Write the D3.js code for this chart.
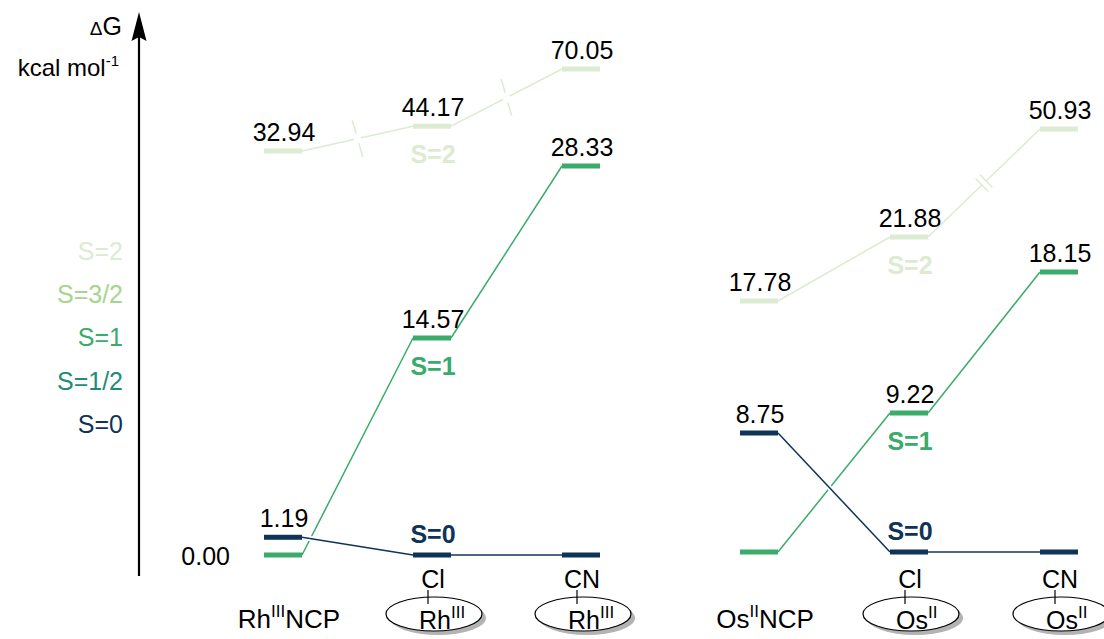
<!DOCTYPE html>
<html>
<head>
<meta charset="utf-8">
<script src="https://cdn.jsdelivr.net/npm/d3@7"></script>
<style>
	body { margin: 0; background: #fff; }
	svg { display: block; }
	text { font-family: "Liberation Sans", Arial, Helvetica, sans-serif; }
</style>
</head>
<body>
<div id="chart"></div>
<script>
// spin states (legend, top to bottom)
var spinStates = ["S=2", "S=3/2", "S=1", "S=1/2", "S=0"];
var spinColors = ["#dcebd1", "#a6d58d", "#3aab6b", "#1f8c7a", "#0f3457"];

// Rh panel: free ligand, Cl complex, CN complex
var rhColumns = ["RhNCP", "Cl-Rh", "CN-Rh"];
var rhS0 = [1.19, 0.00, 0.00];
var rhS1 = [0.00, 14.57, 28.33];
var rhS2 = [32.94, 44.17, 70.05];
var rhS0Shown = [true, false, false];
var rhS1Shown = [true, true, true];
var rhS2Shown = [true, true, true];

// Os panel
var osColumns = ["OsNCP", "Cl-Os", "CN-Os"];
var osS0 = [8.75, 0.00, 0.00];
var osS1 = [0.00, 9.22, 18.15];
var osS2 = [17.78, 21.88, 50.93];
var osS0Shown = [true, false, false];
var osS1Shown = [false, true, true];
var osS2Shown = [true, true, true];

// bottom labels
var rhMetal = ["Rh", "III"];
var osMetal = ["Os", "II"];
var ligands = [null, "Cl", "CN"];

function init() {
	var w = 1104;
	var h = 639;
	var levelW = 38;
	var levelH = 5;
	var fmt = d3.format(".2f");

	var svg = d3.select("#chart")
		.append("svg")
		.attr("width", w)
		.attr("height", h);

	// not-to-scale energy axes (one per panel, with breaks)
	var rhY = d3.scaleLinear()
		.domain([0, 14.57, 28.33, 32.94, 70.05])
		.range([555, 338, 166, 151, 69]);
	var osY = d3.scaleLinear()
		.domain([0, 8.75, 9.22, 17.78, 18.15, 21.88, 50.93])
		.range([552, 433, 413, 301, 272, 237, 129]);

	var rhX = d3.scalePoint().domain(rhColumns).range([283, 581]);
	var osX = d3.scalePoint().domain(osColumns).range([759, 1059]);

	// axis arrow
	svg.append("line")
		.attr("x1", 139).attr("x2", 139)
		.attr("y1", 576).attr("y2", 34)
		.attr("stroke", "#000")
		.attr("stroke-width", 2.2);
	svg.append("path")
		.attr("d", "M139,12 L146.5,41 L139,37 L131.5,41 Z")
		.attr("fill", "#000");

	var dg = svg.append("text").attr("x", 122).attr("y", 35).attr("text-anchor", "end");
	dg.append("tspan").attr("font-size", 19).text("\u0394");
	dg.append("tspan").attr("font-size", 25).text("G");
	var unit = svg.append("text").attr("x", 119).attr("y", 76).attr("text-anchor", "end").attr("font-size", 24);
	unit.append("tspan").text("kcal mol");
	unit.append("tspan").attr("font-size", 15).attr("dy", -10).text("-1");

	// legend
	svg.selectAll("text.legend")
		.data(spinStates)
		.enter()
		.append("text")
		.attr("class", "legend")
		.attr("x", 123)
		.attr("y", function(d, i) { return 260 + i * 43.2; })
		.attr("text-anchor", "end")
		.attr("font-size", 25)
		.attr("fill", function(d, i) { return spinColors[i]; })
		.text(function(d) { return d; });

	function drawSeries(x, y, cols, values, shown, color, halo) {
		var g = svg.append("g");
		var links = d3.pairs(values.map(function(v, i) { return { c: cols[i], v: v }; }));
		if (halo) {
			g.selectAll("line.halo")
				.data(links)
				.enter()
				.append("line")
				.attr("x1", function(d) { return x(d[0].c) + levelW / 2; })
				.attr("y1", function(d) { return y(d[0].v); })
				.attr("x2", function(d) { return x(d[1].c) - levelW / 2; })
				.attr("y2", function(d) { return y(d[1].v); })
				.attr("stroke", "#fff")
				.attr("stroke-width", 5);
		}
		g.selectAll("line.link")
			.data(links)
			.enter()
			.append("line")
			.attr("x1", function(d) { return x(d[0].c) + levelW / 2; })
			.attr("y1", function(d) { return y(d[0].v); })
			.attr("x2", function(d) { return x(d[1].c) - levelW / 2; })
			.attr("y2", function(d) { return y(d[1].v); })
			.attr("stroke", color)
			.attr("stroke-width", 1.5);
		g.selectAll("rect")
			.data(values)
			.enter()
			.append("rect")
			.attr("x", function(d, i) { return x(cols[i]) - levelW / 2; })
			.attr("y", function(d) { return y(d) - levelH / 2; })
			.attr("width", levelW)
			.attr("height", levelH)
			.attr("fill", color);
		g.selectAll("text")
			.data(values.filter(function(d, i) { return shown[i]; }).map(function(d) {
				return { v: d, c: cols[values.indexOf(d)] };
			}))
			.enter()
			.append("text")
			.attr("font-size", 25)
			.attr("fill", "#000")
			.each(function(d) {
				var t = d3.select(this);
				// the ground level of the free Rh complex sits under the 1.19 label
				if (d.v === 0) {
					t.attr("x", x(d.c) - levelW / 2 - 34).attr("y", y(d.v) + 10).attr("text-anchor", "end");
				} else {
					t.attr("x", x(d.c) + 1).attr("y", y(d.v) - 10).attr("text-anchor", "middle");
				}
			})
			.text(function(d) { return fmt(d.v); });
		return links;
	}

	function crossBreak(x, y, link, color) {
		var x1 = x(link[0].c) + levelW / 2, y1 = y(link[0].v);
		var x2 = x(link[1].c) - levelW / 2, y2 = y(link[1].v);
		var mx = (x1 + x2) / 2, my = (y1 + y2) / 2;
		var len = Math.hypot(x2 - x1, y2 - y1);
		var ux = (x2 - x1) / len, uy = (y2 - y1) / len;
		svg.append("line")
			.attr("x1", mx - ux * 3.5).attr("y1", my - uy * 3.5)
			.attr("x2", mx + ux * 3.5).attr("y2", my + uy * 3.5)
			.attr("stroke", "#fff").attr("stroke-width", 4);
		var dx = 0.275, dy = 0.961;
		[-1, 1].forEach(function(s) {
			svg.append("line")
				.attr("x1", mx + s * dx * 5).attr("y1", my + s * dy * 5)
				.attr("x2", mx + s * dx * 19).attr("y2", my + s * dy * 19)
				.attr("stroke", color).attr("stroke-width", 1.6);
		});
	}

	function slashBreak(x, y, link, color) {
		var x1 = x(link[0].c) + levelW / 2, y1 = y(link[0].v);
		var x2 = x(link[1].c) - levelW / 2, y2 = y(link[1].v);
		var mx = (x1 + x2) / 2, my = (y1 + y2) / 2;
		var len = Math.hypot(x2 - x1, y2 - y1);
		var ux = (x2 - x1) / len, uy = (y2 - y1) / len;
		var px = -uy, py = ux;
		svg.append("line")
			.attr("x1", mx - ux * 3).attr("y1", my - uy * 3)
			.attr("x2", mx + ux * 3).attr("y2", my + uy * 3)
			.attr("stroke", "#fff").attr("stroke-width", 4);
		[-3, 3].forEach(function(s) {
			svg.append("line")
				.attr("x1", mx + ux * s - px * 9).attr("y1", my + uy * s - py * 9)
				.attr("x2", mx + ux * s + px * 9).attr("y2", my + uy * s + py * 9)
				.attr("stroke", color).attr("stroke-width", 1.5);
		});
	}

	var c2 = spinColors[0], c1 = spinColors[2], c0 = spinColors[4];

	var rhL2 = drawSeries(rhX, rhY, rhColumns, rhS2, rhS2Shown, c2, false);
	drawSeries(rhX, rhY, rhColumns, rhS1, rhS1Shown, c1, false);
	drawSeries(rhX, rhY, rhColumns, rhS0, rhS0Shown, c0, true);
	rhL2.forEach(function(l) { crossBreak(rhX, rhY, l, c2); });

	var osL2 = drawSeries(osX, osY, osColumns, osS2, osS2Shown, c2, false);
	drawSeries(osX, osY, osColumns, osS1, osS1Shown, c1, false);
	drawSeries(osX, osY, osColumns, osS0, osS0Shown, c0, true);
	slashBreak(osX, osY, osL2[1], c2);

	// bold spin tags at the middle column
	function tag(x, y, cols, value, label, color, above) {
		svg.append("text")
			.attr("x", x(cols[1]) + 1)
			.attr("y", above ? y(value) - 12 : y(value) + 37)
			.attr("text-anchor", "middle")
			.attr("font-size", 25)
			.attr("font-weight", "bold")
			.attr("fill", color)
			.text(label);
	}
	tag(rhX, rhY, rhColumns, rhS2[1], "S=2", c2, false);
	tag(rhX, rhY, rhColumns, rhS1[1], "S=1", c1, false);
	tag(rhX, rhY, rhColumns, rhS0[1], "S=0", c0, true);
	tag(osX, osY, osColumns, osS2[1], "S=2", c2, false);
	tag(osX, osY, osColumns, osS1[1], "S=1", c1, false);
	tag(osX, osY, osColumns, osS0[1], "S=0", c0, true);

	// structure labels
	function structures(x, cols, metal) {
		var t = svg.append("text")
			.attr("x", x(cols[0]) + 6)
			.attr("y", 628)
			.attr("text-anchor", "middle")
			.attr("font-size", 26);
		t.append("tspan").text(metal[0]);
		t.append("tspan").attr("font-size", 17).attr("dy", -11).text(metal[1]);
		t.append("tspan").attr("dy", 11).text("NCP");

		cols.slice(1).forEach(function(c, i) {
			var cx = x(c);
			var g = svg.append("g");
			g.append("ellipse")
				.attr("cx", cx + 6).attr("cy", 618)
				.attr("rx", 48).attr("ry", 17)
				.attr("fill", "#b3b3b3");
			g.append("ellipse")
				.attr("cx", cx + 2).attr("cy", 614)
				.attr("rx", 48).attr("ry", 17)
				.attr("fill", "#fff")
				.attr("stroke", "#000")
				.attr("stroke-width", 1.2);
			g.append("line")
				.attr("x1", cx - 4).attr("x2", cx - 4)
				.attr("y1", 590).attr("y2", 604)
				.attr("stroke", "#000").attr("stroke-width", 1.2);
			g.append("text")
				.attr("x", cx + 1).attr("y", 588)
				.attr("text-anchor", "middle")
				.attr("font-size", 25)
				.text(ligands[i + 1]);
			var m = g.append("text")
				.attr("x", cx - 13).attr("y", 629)
				.attr("font-size", 25);
			m.append("tspan").text(metal[0]);
			m.append("tspan").attr("font-size", 17).attr("dy", -11).text(metal[1]);
		});
	}
	structures(rhX, rhColumns, rhMetal);
	structures(osX, osColumns, osMetal);
}

window.onload = init;
</script>
</body>
</html>
